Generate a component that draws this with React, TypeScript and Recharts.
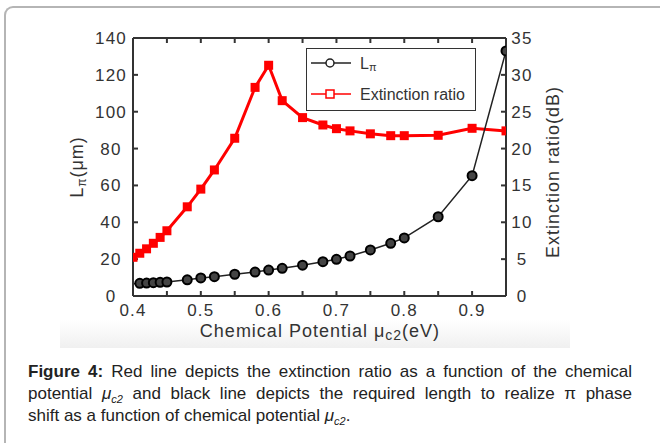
import { Line, LineChart, XAxis, YAxis } from 'recharts';

// chemical potential mu_c2 (eV)
const mu = [0.4, 0.41, 0.42, 0.43, 0.44, 0.45, 0.48, 0.5, 0.52, 0.55, 0.58, 0.6, 0.62, 0.65, 0.68, 0.7, 0.72, 0.75, 0.78, 0.8, 0.85, 0.9, 0.95];
// L_pi (um), left axis
const lPi = [6.6, 6.9, 7.0, 7.2, 7.4, 7.6, 8.8, 9.8, 10.5, 11.8, 13, 14.1, 15, 16.7, 18.6, 19.9, 21.7, 25, 28.6, 31.5, 43, 65.3, 133];
// extinction ratio (dB), right axis
const extRatio = [5.25, 5.8, 6.4, 7.15, 7.95, 8.85, 12.1, 14.5, 17.1, 21.4, 28.3, 31.3, 26.5, 24.2, 23.2, 22.7, 22.4, 22.0, 21.75, 21.75, 21.8, 22.75, 22.4];

const xTicks = [0.4, 0.45, 0.5, 0.55, 0.6, 0.65, 0.7, 0.75, 0.8, 0.85, 0.9];
const leftTicks = [0, 20, 40, 60, 80, 100, 120, 140];
const rightTicks = [0, 5, 10, 15, 20, 25, 30, 35];

const data = mu.map((m, i) => ({ mu: m, lPi: lPi[i], ext: extRatio[i] }));

const FONT = '"Liberation Sans", Arial, sans-serif';
const tickStyle = { fontSize: 17, fill: '#333', fontFamily: FONT, letterSpacing: 1.2 };
const axisColor = '#333';

const BlackDot = (props: any) => {
  const { cx, cy, index } = props;
  // first point sits on the axis, no marker drawn there
  if (index === 0) return <g key={`b-${index}`} />;
  return <circle key={`b-${index}`} cx={cx} cy={cy} r={4.5} fill="#444" stroke="#000" strokeWidth={2} />;
};

const RedDot = (props: any) => {
  const { cx, cy, index } = props;
  return <rect key={`r-${index}`} x={cx - 4.5} y={cy - 4.5} width={9} height={9} fill="#ff0000" />;
};

const subStyle = { fontStyle: 'italic' as const, fontSize: 11, position: 'relative' as const, top: 4 };
const justLine = { textAlign: 'justify' as const, textAlignLast: 'justify' as const, whiteSpace: 'nowrap' as const, height: 22 };

export default function App() {
  return (
    <div style={{ position: 'absolute', left: 0, top: 0, width: 660, height: 443, background: '#fff', overflow: 'hidden', fontFamily: FONT }}>
      <div style={{ position: 'absolute', left: 4, top: 6, width: 700, height: 500, borderTop: '2px solid #b5b5b5', borderLeft: '2px solid #b5b5b5', borderTopLeftRadius: 9 }} />
      <div style={{ position: 'absolute', left: 60, top: 320, width: 510, height: 28, background: 'linear-gradient(#ffffff, #f0f0f0)' }} />

      <div style={{ position: 'absolute', left: 0, top: 0 }}>
        <LineChart width={660} height={350} data={data} margin={{ top: 37, right: 0, bottom: 0, left: 0 }}>
          <XAxis
            dataKey="mu"
            type="number"
            domain={[0.4, 0.95]}
            ticks={xTicks}
            allowDataOverflow
            height={54}
            stroke={axisColor}
            strokeWidth={2}
            tickSize={-5}
            tickMargin={13}
            tick={tickStyle}
            tickFormatter={(v: number) => (Math.round(v * 100) % 10 === 0 ? String(Math.round(v * 10) / 10) : '')}
          />
          <XAxis
            xAxisId="top"
            orientation="top"
            dataKey="mu"
            type="number"
            domain={[0.4, 0.95]}
            ticks={xTicks}
            allowDataOverflow
            height={1}
            stroke={axisColor}
            strokeWidth={2}
            tickSize={-5}
            tickFormatter={() => ''}
          />
          <YAxis
            yAxisId="left"
            domain={[0, 140]}
            ticks={leftTicks}
            width={133}
            stroke={axisColor}
            strokeWidth={2}
            tickSize={-5}
            tickMargin={27}
            tick={{ ...tickStyle, textAnchor: 'middle' }}
          />
          <YAxis
            yAxisId="right"
            orientation="right"
            domain={[0, 35]}
            ticks={rightTicks}
            width={154}
            stroke={axisColor}
            strokeWidth={2}
            tickSize={-5}
            tickMargin={21}
            tick={{ ...tickStyle, textAnchor: 'middle' }}
          />
          <Line
            yAxisId="right"
            dataKey="ext"
            stroke="#ff0000"
            strokeWidth={3}
            dot={RedDot}
            isAnimationActive={false}
          />
          <Line
            yAxisId="left"
            dataKey="lPi"
            stroke="#222"
            strokeWidth={1.5}
            dot={BlackDot}
            isAnimationActive={false}
          />
        </LineChart>
      </div>

      {/* axis titles */}
      <svg width={660} height={443} style={{ position: 'absolute', left: 0, top: 0, pointerEvents: 'none' }}>
        <text x={77} y={167} transform="rotate(-90 77 167)" textAnchor="middle" dominantBaseline="central" fontSize={18} fill="#333" fontFamily={FONT} letterSpacing={1}>
          L<tspan fontSize={12} dy={5}>π</tspan><tspan dy={-5}>(μm)</tspan>
        </text>
        <text x={553} y={172} transform="rotate(-90 553 172)" textAnchor="middle" dominantBaseline="central" fontSize={18} fill="#333" fontFamily={FONT} letterSpacing={1}>
          Extinction ratio(dB)
        </text>
        <text x={320} y={331} textAnchor="middle" dominantBaseline="central" fontSize={18} fill="#333" fontFamily={FONT} letterSpacing={1}>
          Chemical Potential μ<tspan fontSize={14} dy={4}>c2</tspan><tspan dy={-4}>(eV)</tspan>
        </text>
      </svg>

      {/* legend */}
      <div style={{ position: 'absolute', left: 306, top: 48, width: 168, height: 61, border: '1.5px solid #333', background: '#fff' }}>
        <svg width={168} height={61} style={{ position: 'absolute', left: 0, top: 0 }}>
          <line x1={4} x2={44} y1={14} y2={14} stroke="#222" strokeWidth={1.5} />
          <circle cx={23} cy={14} r={4} fill="#fff" stroke="#222" strokeWidth={1.5} />
          <text x={53} y={14} dominantBaseline="central" fontSize={16} fill="#333" fontFamily={FONT}>
            L<tspan fontSize={11} dy={4}>π</tspan>
          </text>
          <line x1={4} x2={44} y1={45} y2={45} stroke="#ff0000" strokeWidth={1.5} />
          <rect x={19} y={41} width={8} height={8} fill="#fff" stroke="#ff0000" strokeWidth={1.5} />
          <text x={53} y={45} dominantBaseline="central" fontSize={16} fill="#333" fontFamily={FONT}>
            Extinction ratio
          </text>
        </svg>
      </div>

      {/* caption */}
      <div style={{ position: 'absolute', left: 28, top: 361, width: 604, fontSize: 17, lineHeight: '22px', color: '#222' }}>
        <div style={justLine}>
          <b>Figure 4:</b> Red line depicts the extinction ratio as a function of the chemical
        </div>
        <div style={justLine}>
          potential <i>μ</i><span style={subStyle}>c2</span> and black line depicts the required length to realize π phase
        </div>
        <div style={{ whiteSpace: 'nowrap', height: 22 }}>
          shift as a function of chemical potential <i>μ</i><span style={subStyle}>c2</span>.
        </div>
      </div>
    </div>
  );
}
